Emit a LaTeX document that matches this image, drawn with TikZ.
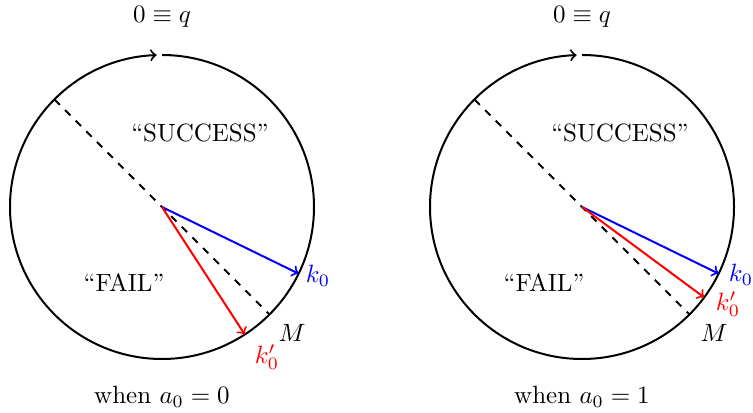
\documentclass[tikz,border=0pt]{standalone}
\usetikzlibrary{calc}
\begin{document}
\begin{tikzpicture}[x=0.4pt,y=0.4pt,
  ring/.style={thick,->},
  vec/.style={thick,->},
  diam/.style={thick,dashed},
  lbl/.style={inner sep=0pt}]
\useasboundingbox (0,0) rectangle (753,413);
% left
\coordinate (cL) at (162,206);
\draw[ring] (cL) ++(90:152) arc[start angle=90,end angle=-268,radius=152];
\coordinate (dL1) at ($(cL)+(135:152)$);
\coordinate (dL2) at ($(cL)+(-45:152)$);
\draw[diam] (dL1) -- (dL2);
\coordinate (bL) at ($(cL)+(-26:152)$);
\coordinate (rL) at ($(cL)+(-57:152)$);
\draw[vec,blue] (cL) -- (bL);
\draw[vec,red] (cL) -- (rL);
\node[lbl] (topL) at (162,396) {$0\equiv q$};
\node[lbl] (sL) at (200,280) {``SUCCESS''};
\node[lbl] (fL) at (124,130) {``FAIL''};
\node[lbl] (wL) at (162,16) {when $a_0=0$};
\node[lbl,blue] (kL) at (318,137) {$k_0$};
\node[lbl,red] (kpL) at (267,56) {$k'_0$};
\node[lbl] (mL) at (292,80) {$M$};
% right
\coordinate (cR) at (582,206);
\draw[ring] (cR) ++(90:152) arc[start angle=90,end angle=-268,radius=152];
\coordinate (dR1) at ($(cR)+(135:152)$);
\coordinate (dR2) at ($(cR)+(-45:152)$);
\draw[diam] (dR1) -- (dR2);
\coordinate (bR) at ($(cR)+(-26:152)$);
\coordinate (rR) at ($(cR)+(-36.5:152)$);
\draw[vec,blue] (cR) -- (bR);
\draw[vec,red] (cR) -- (rR);
\node[lbl] (topR) at (582,396) {$0\equiv q$};
\node[lbl] (sR) at (620,280) {``SUCCESS''};
\node[lbl] (fR) at (544,130) {``FAIL''};
\node[lbl] (wR) at (582,16) {when $a_0=1$};
\node[lbl,blue] (kR) at (741,138) {$k_0$};
\node[lbl,red] (kpR) at (728,109) {$k'_0$};
\node[lbl] (mR) at (714,80) {$M$};
\end{tikzpicture}
\end{document}
